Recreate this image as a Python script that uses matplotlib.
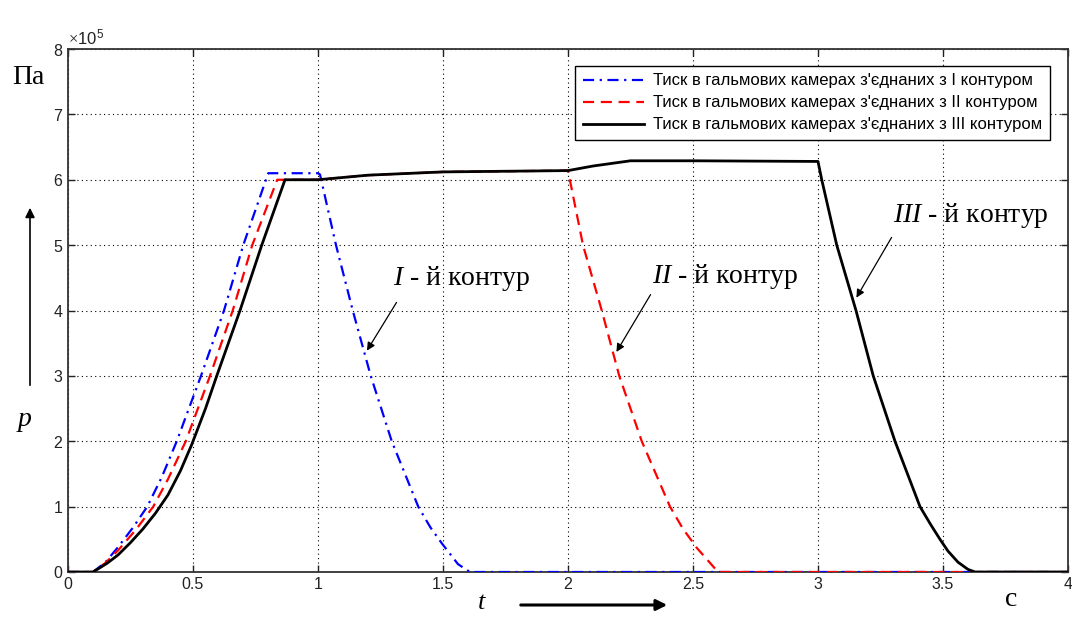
import matplotlib
matplotlib.use('Agg')
import matplotlib.pyplot as plt
import numpy as np
from matplotlib.ticker import FuncFormatter, MultipleLocator

plt.rcParams['font.family'] = ['Liberation Sans', 'DejaVu Sans']
plt.rcParams['mathtext.fontset'] = 'custom'
plt.rcParams['mathtext.rm'] = 'Liberation Serif'
plt.rcParams['mathtext.it'] = 'Liberation Serif:italic'

# pressure in units of 1e5 Pa, time in s
t_1 = [0, 0.1, 0.15, 0.2, 0.26, 0.317, 0.375, 0.435, 0.532, 0.624, 0.701, 0.801, 1.0, 1.008,
       1.072, 1.139, 1.211, 1.295, 1.401, 1.45, 1.495, 1.56, 1.608, 4.0]
p_1 = [0, 0, 0.15, 0.38, 0.68, 1.0, 1.45, 2.0, 3.0, 4.0, 5.0, 6.1, 6.1, 6.08,
       5.0, 4.0, 3.0, 2.0, 1.0, 0.68, 0.44, 0.12, 0, 0]

t_2 = [0, 0.1, 0.15, 0.2, 0.27, 0.341, 0.4, 0.471, 0.568, 0.659, 0.737, 0.837, 1.0, 1.2,
       1.5, 2.0, 2.06, 2.135, 2.205, 2.295, 2.408, 2.46, 2.515, 2.6, 4.0]
p_2 = [0, 0, 0.14, 0.33, 0.64, 1.0, 1.42, 2.0, 3.0, 4.0, 5.0, 6.0, 6.0, 6.07,
       6.12, 6.14, 5.0, 4.0, 3.0, 2.0, 1.0, 0.66, 0.37, 0, 0]

t_3 = [0, 0.1, 0.155, 0.2, 0.25, 0.3, 0.35, 0.4, 0.45, 0.495, 0.55, 0.595, 0.688, 0.775,
       0.868, 1.0, 1.2, 1.5, 2.0, 2.1, 2.25, 2.5, 3.0, 3.015, 3.075, 3.152, 3.221, 3.308,
       3.408, 3.45, 3.488, 3.52, 3.56, 3.6, 3.628, 4.0]
p_3 = [0, 0, 0.13, 0.26, 0.45, 0.66, 0.9, 1.18, 1.55, 1.95, 2.5, 3.0, 4.0, 5.0,
       6.0, 6.0, 6.07, 6.12, 6.14, 6.21, 6.29, 6.29, 6.28, 6.0, 5.0, 4.0, 3.0, 2.0,
       1.0, 0.73, 0.5, 0.32, 0.15, 0.04, 0, 0]

labels = ["Тиск в гальмових камерах з'єднаних з I контуром",
          "Тиск в гальмових камерах з'єднаних з II контуром",
          "Тиск в гальмових камерах з'єднаних з III контуром"]

fig = plt.figure(figsize=(10.72, 6.17), dpi=100)
ax = fig.add_axes([68 / 1072, 45 / 617, 1000 / 1072, 523 / 617])

ax.plot(t_1, np.array(p_1) * 1e5, color='blue', lw=1.6,
        linestyle=(0, (5, 2.5, 1, 2.5)), label=labels[0], zorder=3)
ax.plot(t_2, np.array(p_2) * 1e5, color='red', lw=1.6,
        linestyle=(0, (5, 3)), label=labels[1], zorder=4)
ax.plot(t_3, np.array(p_3) * 1e5, color='black', lw=2.0,
        label=labels[2], zorder=5)

ax.set_xlim(0, 4)
ax.set_ylim(0, 8e5)
ax.xaxis.set_major_locator(MultipleLocator(0.5))
ax.yaxis.set_major_locator(MultipleLocator(1e5))
ax.xaxis.set_major_formatter(FuncFormatter(lambda v, _: '%g' % v))
ax.ticklabel_format(axis='y', style='sci', scilimits=(0, 0), useMathText=True)
ax.yaxis.get_offset_text().set_fontsize(12)
ax.tick_params(direction='in', length=5, width=1, labelsize=11.5,
               top=True, right=True, colors='#222222')
for s in ax.spines.values():
    s.set_linewidth(1.3)
    s.set_color('#333333')
ax.grid(True, color='black', linestyle=(0, (1, 3)), lw=0.8)

leg = ax.legend(loc='upper right', bbox_to_anchor=(0.982, 0.9675), borderaxespad=0,
                fancybox=False, edgecolor='black', framealpha=1, fontsize=12,
                handlelength=3.7, handletextpad=0.55, labelspacing=0.42, borderpad=0.45)
leg.get_frame().set_linewidth(1.0)
leg.set_zorder(10)

ann_font = dict(fontsize=20, family='Liberation Serif', va='center')
arrow = dict(arrowstyle='-|>', color='black', lw=0.9, mutation_scale=12)

ax.annotate('', xy=(1.19, 3.35e5), xytext=(1.32, 4.16e5), arrowprops=arrow)
ax.text(1.30, 4.49e5, r'$I$ - й контур', **ann_font)
ax.annotate('', xy=(2.188, 3.33e5), xytext=(2.336, 4.28e5), arrowprops=arrow)
ax.text(2.335, 4.52e5, r'$II$ - й контур', **ann_font)
ax.annotate('', xy=(3.148, 4.16e5), xytext=(3.30, 5.155e5), arrowprops=arrow)
ax.text(3.30, 5.46e5, r'$III$ - й контур', **ann_font)

# axis captions and direction arrows
fig.text(12 / 1072, 1 - 78 / 617, 'Па', fontsize=20, family='Liberation Serif', va='center')
fig.text(18 / 1072, 1 - 420 / 617, 'p', fontsize=20, family='Liberation Serif',
         style='italic', va='center')
fig.text(478 / 1072, 1 - 603 / 617, 't', fontsize=19, family='Liberation Serif',
         style='italic', va='center')
fig.text(1005 / 1072, 1 - 600 / 617, 'с', fontsize=20, family='Liberation Serif', va='center')
big_arrow = dict(arrowstyle='-|>', color='black', lw=1.2, mutation_scale=14)
ax.annotate('', xy=(30, 617 - 205), xytext=(30, 617 - 388),
            xycoords='figure pixels', textcoords='figure pixels', arrowprops=big_arrow)
ax.annotate('', xy=(670, 12), xytext=(518, 12),
            xycoords='figure pixels', textcoords='figure pixels',
            arrowprops=dict(arrowstyle='-|>', color='black', lw=2.2, mutation_scale=16))

fig.savefig('out.png', dpi=100)
